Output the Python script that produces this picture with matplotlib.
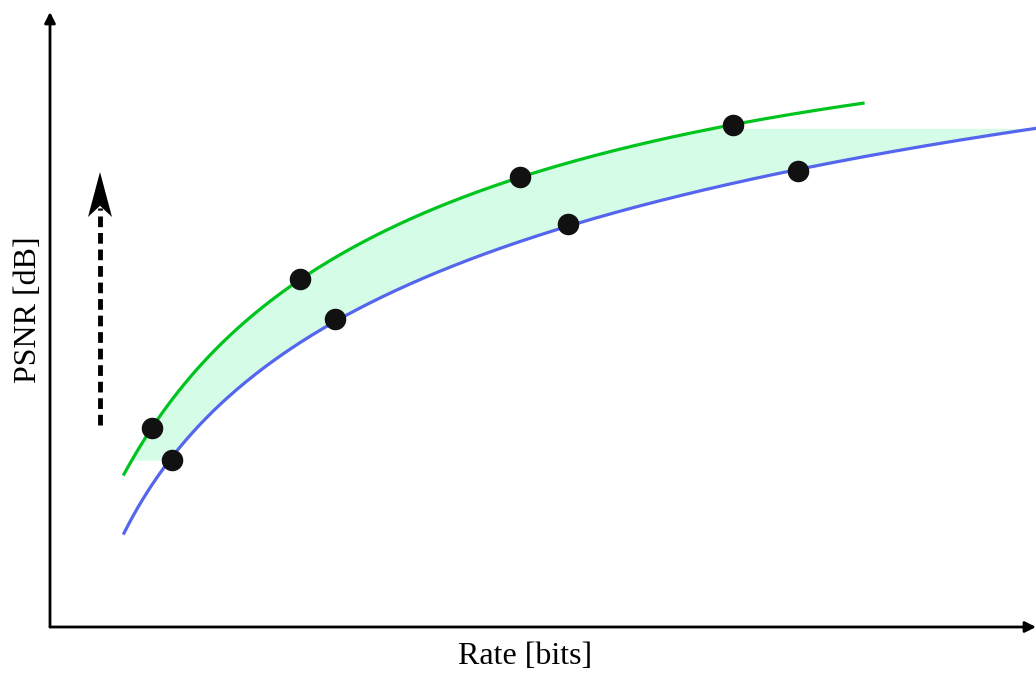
import numpy as np
import matplotlib
matplotlib.use("Agg")
from matplotlib import pyplot as plt
from matplotlib.patches import Polygon

# measured points (rate in arbitrary units, PSNR in dB)
rate_green = [10.2, 25.0, 47.0, 68.3]
psnr_green = [29.95, 37.4, 42.5, 45.1]
rate_blue = [12.2, 28.5, 51.8, 74.8]
psnr_blue = [28.35, 35.4, 40.15, 42.8]

# extra points (ends included)
trace_rate_green = [7.4, 33.0, 81.3]
trace_psnr_green = [27.65, 39.65, 46.2]
trace_rate_blue = [7.4, 33.0, 45.0, 98.6]
trace_psnr_blue = [24.75, 36.65, 38.6, 45.0]

GREEN = '#00c41e'
BLUE = '#5566ee'
FILL = '#d4fce6'

plt.rcParams['font.family'] = ['Liberation Serif', 'DejaVu Serif']

fig = plt.figure(figsize=(10.36, 6.73), dpi=100)
ax = fig.add_axes([50 / 1036, 46 / 673, 986 / 1036, 615 / 673])
ax.set_xlim(0, 98.6)
ax.set_ylim(20, 50.75)
for s in ax.spines.values():
    s.set_visible(False)
ax.set_xticks([])
ax.set_yticks([])


def fit_curve(r, p, tr, tp):
    # cubic fit in log(rate) through measured + traced points
    rr_all = np.array(r + tr)
    pp_all = np.array(p + tp)
    c = np.polyfit(np.log(rr_all), pp_all, 3)
    rr = np.linspace(min(tr), max(tr), 400)
    return rr, np.polyval(c, np.log(rr))


gx, gy = fit_curve(rate_green, psnr_green, trace_rate_green, trace_psnr_green)
bx, by = fit_curve(rate_blue, psnr_blue, trace_rate_blue, trace_psnr_blue)

# filled region between the curves, taken along the PSNR axis
p_lo = psnr_blue[0]
p_hi = by[-1]
pp = np.linspace(p_lo, p_hi, 400)
left = np.interp(pp, gy, gx)
right = np.interp(pp, by, bx)
ax.fill_betweenx(pp, left, right, color=FILL, lw=0, zorder=1)

ax.plot(gx, gy, color=GREEN, lw=2.3, zorder=2, clip_on=False)
ax.plot(bx, by, color=BLUE, lw=2.3, zorder=2, clip_on=False)
ax.plot(rate_green, psnr_green, 'o', color='#111111', ms=14.5, zorder=3)
ax.plot(rate_blue, psnr_blue, 'o', color='#111111', ms=14.5, zorder=3)

# axes with arrow heads
arr = dict(arrowstyle='-|>', lw=2, color='k', mutation_scale=16,
           shrinkA=0, shrinkB=0)
ax.annotate('', xy=(1, 0), xytext=(0, 0), xycoords='axes fraction',
            arrowprops=arr)
ax.annotate('', xy=(0, 1), xytext=(0, 0), xycoords='axes fraction',
            arrowprops=arr)

# dashed improvement arrow
ax_x, y0, y1 = 5.0, 30.1, 42.75
hl, hw = 2.25, 1.2
ax.plot([ax_x, ax_x], [y0, y1 - hl * 0.8], color='k', lw=3.5,
        dashes=(2.2, 1.2), solid_capstyle='butt', dash_capstyle='butt')
ax.add_patch(Polygon([(ax_x, y1), (ax_x - hw, y1 - hl),
                      (ax_x, y1 - hl * 0.75), (ax_x + hw, y1 - hl)],
                     closed=True, color='k', lw=0))

ax.set_xlabel('Rate [bits]', fontsize=23)
ax.xaxis.set_label_coords(475 / 986, -0.024)
ax.xaxis.label.set_va('top')
ax.set_ylabel('PSNR [dB]', fontsize=23)
ax.yaxis.set_label_coords(-0.007, 317 / 615)

fig.savefig('out.png', dpi=100)
